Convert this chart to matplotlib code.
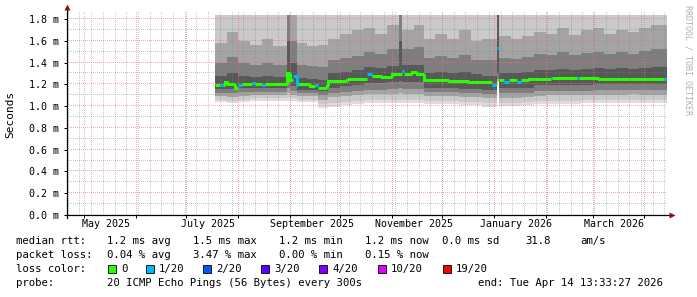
import numpy as np
import pandas as pd
import matplotlib
matplotlib.use('Agg')
import matplotlib.pyplot as plt
import matplotlib.dates as mdates
import matplotlib.transforms as mtransforms
from matplotlib.patches import Rectangle

plt.rcParams['font.family'] = ['DejaVu Sans Mono', 'DejaVu Sans']

# ---- data ---------------------------------------------------------------
end_time = pd.Timestamp('2026-04-14 13:33:27')
start_time = end_time - pd.Timedelta(days=359)

# median rtt (ms), one step per start date; loss index per step
med_dates = ['2025-07-18', '2025-07-21', '2025-07-23', '2025-07-24', '2025-07-26',
             '2025-07-30', '2025-08-01', '2025-08-03', '2025-08-09', '2025-08-11',
             '2025-08-15', '2025-08-17', '2025-08-30', '2025-09-01', '2025-09-03',
             '2025-09-05', '2025-09-06', '2025-09-13', '2025-09-16', '2025-09-18',
             '2025-09-23', '2025-09-24', '2025-10-05', '2025-10-06', '2025-10-17',
             '2025-10-20', '2025-10-26', '2025-11-01', '2025-11-07', '2025-11-08',
             '2025-11-13', '2025-11-16', '2025-11-20', '2025-12-05', '2025-12-17',
             '2025-12-31', '2026-01-02', '2026-01-03', '2026-01-04', '2026-01-07',
             '2026-01-10', '2026-01-15', '2026-01-17', '2026-01-22', '2026-01-25',
             '2026-02-04', '2026-02-05', '2026-02-20', '2026-02-21', '2026-03-05',
             '2026-03-23', '2026-04-13']
med_ms = [1.195, 1.19, 1.195, 1.22, 1.20,
          1.17, 1.195, 1.205, 1.215, 1.20,
          1.195, 1.20, 1.30, 1.24, 1.28,
          1.195, 1.20, 1.185, 1.19, 1.17,
          1.18, 1.233, 1.24, 1.25, 1.29,
          1.28, 1.265, 1.29, 1.32, 1.29,
          1.315, 1.295, 1.235, 1.23, 1.22,
          1.19, 1.20, 1.53, 1.235, 1.22,
          1.235, 1.22, 1.235, 1.245, 1.25,
          1.255, 1.255, 1.255, 1.255, 1.25,
          1.25, 1.245]
med_loss = [0, 1, 0, 0, 0,
            0, 1, 0, 1, 0,
            1, 0, 0, 0, 1,
            1, 0, 0, 1, 0,
            0, 0, 0, 0, 1,
            0, 0, 0, 1, 0,
            0, 0, 0, 0, 0,
            1, 0, 1, 0, 1,
            0, 1, 0, 0, 0,
            1, 0, 1, 0, 0,
            0, 1]

# smoke: sorted ping ranks (ms) per step
smoke_dates = ['2025-07-18', '2025-07-25', '2025-08-01', '2025-08-08', '2025-08-15',
               '2025-08-22', '2025-08-30', '2025-09-01', '2025-09-05', '2025-09-11',
               '2025-09-18', '2025-09-24', '2025-10-01', '2025-10-08', '2025-10-15',
               '2025-10-22', '2025-10-29', '2025-11-05', '2025-11-07', '2025-11-14',
               '2025-11-20', '2025-11-27', '2025-12-04', '2025-12-11', '2025-12-18',
               '2025-12-25', '2026-01-03', '2026-01-04', '2026-01-11', '2026-01-18',
               '2026-01-25', '2026-02-01', '2026-02-08', '2026-02-15', '2026-02-22',
               '2026-03-01', '2026-03-08', '2026-03-15', '2026-03-22', '2026-03-29',
               '2026-04-05']
ping_1 = [1.04, 1.03, 1.04, 1.05, 1.05, 1.05, 1.05, 1.05, 1.04, 1.04,
          0.98, 0.99, 1.01, 1.02, 1.03, 1.03, 1.03, 1.03, 1.03, 1.03,
          1.02, 1.02, 1.02, 1.01, 1.01, 0.99, 1.22, 1.00, 1.00, 1.01,
          1.02, 1.02, 1.02, 1.02, 1.03, 1.03, 1.03, 1.03, 1.03, 1.03,
          1.03]
ping_2 = [1.06, 1.05, 1.06, 1.07, 1.07, 1.07, 1.08, 1.07, 1.06, 1.06,
          1.02, 1.03, 1.04, 1.05, 1.06, 1.06, 1.06, 1.06, 1.06, 1.06,
          1.05, 1.05, 1.05, 1.04, 1.04, 1.03, 1.22, 1.03, 1.03, 1.04,
          1.05, 1.05, 1.05, 1.05, 1.06, 1.06, 1.06, 1.06, 1.06, 1.06,
          1.06]
ping_4 = [1.09, 1.08, 1.09, 1.10, 1.10, 1.10, 1.12, 1.10, 1.09, 1.09,
          1.06, 1.08, 1.09, 1.10, 1.11, 1.11, 1.11, 1.12, 1.11, 1.11,
          1.09, 1.09, 1.09, 1.08, 1.08, 1.07, 1.23, 1.07, 1.07, 1.08,
          1.09, 1.10, 1.10, 1.10, 1.10, 1.10, 1.10, 1.10, 1.11, 1.10,
          1.10]
ping_6 = [1.12, 1.12, 1.13, 1.13, 1.13, 1.13, 1.17, 1.14, 1.12, 1.12,
          1.10, 1.12, 1.13, 1.14, 1.15, 1.15, 1.16, 1.17, 1.16, 1.16,
          1.13, 1.13, 1.13, 1.12, 1.12, 1.11, 1.25, 1.12, 1.12, 1.12,
          1.14, 1.14, 1.14, 1.14, 1.14, 1.15, 1.15, 1.15, 1.15, 1.15,
          1.15]
ping_8 = [1.16, 1.16, 1.17, 1.17, 1.17, 1.17, 1.22, 1.18, 1.15, 1.15,
          1.14, 1.17, 1.18, 1.19, 1.21, 1.21, 1.22, 1.23, 1.22, 1.22,
          1.17, 1.17, 1.17, 1.16, 1.16, 1.15, 1.30, 1.17, 1.17, 1.17,
          1.19, 1.19, 1.19, 1.19, 1.19, 1.20, 1.20, 1.20, 1.20, 1.20,
          1.20]
ping_13 = [1.28, 1.30, 1.28, 1.27, 1.28, 1.27, 1.60, 1.40, 1.26, 1.25,
           1.24, 1.30, 1.31, 1.33, 1.36, 1.35, 1.37, 1.60, 1.38, 1.38,
           1.30, 1.31, 1.30, 1.31, 1.29, 1.28, 1.84, 1.30, 1.30, 1.31,
           1.33, 1.33, 1.34, 1.33, 1.34, 1.35, 1.34, 1.35, 1.34, 1.35,
           1.36]
ping_15 = [1.40, 1.45, 1.40, 1.38, 1.40, 1.38, 1.84, 1.60, 1.38, 1.37,
           1.36, 1.42, 1.44, 1.46, 1.50, 1.48, 1.52, 1.84, 1.52, 1.54,
           1.44, 1.46, 1.44, 1.47, 1.42, 1.42, 1.84, 1.44, 1.43, 1.45,
           1.48, 1.47, 1.50, 1.47, 1.49, 1.50, 1.48, 1.50, 1.48, 1.51,
           1.52]
ping_17 = [1.58, 1.68, 1.60, 1.56, 1.62, 1.55, 1.84, 1.84, 1.58, 1.55,
           1.56, 1.62, 1.66, 1.70, 1.72, 1.66, 1.74, 1.84, 1.70, 1.74,
           1.62, 1.66, 1.62, 1.70, 1.60, 1.62, 1.84, 1.64, 1.62, 1.64,
           1.68, 1.66, 1.72, 1.65, 1.70, 1.72, 1.66, 1.70, 1.68, 1.72,
           1.74]
ping_19 = [1.84] * 41

loss_labels = ['0', '1/20', '2/20', '3/20', '4/20', '10/20', '19/20']
loss_colors = ['#26ff00', '#00b8ff', '#0059ff', '#5e00ff', '#7e00ff', '#dd00ff', '#ff0000']

y_ticks = [0.0, 0.2, 0.4, 0.6, 0.8, 1.0, 1.2, 1.4, 1.6, 1.8]
x_label_dates = ['2025-05-14', '2025-07-14', '2025-09-14', '2025-11-14', '2026-01-14', '2026-03-14']
x_label_text = ['May 2025', 'July 2025', 'September 2025', 'November 2025',
                'January 2026', 'March 2026']

# ---- figure -------------------------------------------------------------
W, H = 697, 297
AX_W, AX_H = 600, 215 - 12.4
fig = plt.figure(figsize=(W / 100, H / 100), dpi=100)
fig.patch.set_facecolor('white')
ax = fig.add_axes([67 / W, 82 / H, AX_W / W, AX_H / H])
ax.set_xlim(mdates.date2num(start_time), mdates.date2num(end_time))
ax.set_ylim(0, 1.86)


def ext(v):
    return list(v) + [v[-1]]


def to_num(dates):
    return mdates.date2num(list(pd.to_datetime(dates)) + [end_time])


sx = to_num(smoke_dates)
bands = [(ping_1, ping_19, '#dddddd'), (ping_2, ping_19, '#cacaca'),
         (ping_4, ping_17, '#a4a4a4'), (ping_6, ping_15, '#7e7e7e'),
         (ping_8, ping_13, '#585858')]
for lo, hi, c in bands:
    ax.fill_between(sx, ext(lo), ext(hi), step='post', color=c, lw=0, zorder=1)

# dotted (1 px on / 1 px off) grid on top of smoke, as rrdtool does
grid_gray = (0.5, 0.5, 0.5, 0.42)
grid_red = (0.92, 0.45, 0.45, 0.6)
dots_x = np.arange(0, AX_W, 2) / AX_W
dots_y = np.arange(0, AX_H, 2) / AX_H
ty = mtransforms.blended_transform_factory(ax.transAxes, ax.transData)
tx = mtransforms.blended_transform_factory(ax.transData, ax.transAxes)
for v in np.arange(0.1, 1.85, 0.1):
    major = abs(v / 0.2 - round(v / 0.2)) < 1e-6
    ax.plot(dots_x, np.full_like(dots_x, v), ls='none', marker=',',
            color=grid_red if major else grid_gray, transform=ty, zorder=3)
for d in pd.date_range(start_time.normalize(), end_time, freq='W-MON'):
    ax.plot(np.full_like(dots_y, mdates.date2num(d)), dots_y, ls='none', marker=',',
            color=grid_gray, transform=tx, zorder=3)
month_starts = pd.date_range(start_time.normalize(), end_time, freq='MS')
for d in month_starts:
    ax.plot(np.full_like(dots_y, mdates.date2num(d)), dots_y, ls='none', marker=',',
            color=grid_red, transform=tx, zorder=3)

# median line, coloured by loss
mx = to_num(med_dates)
for i in range(len(med_ms)):
    xs = [mx[i], mx[i + 1]]
    ys = [med_ms[i], med_ms[i]]
    if i > 0 and med_loss[i] == med_loss[i - 1]:
        xs = [mx[i]] + xs
        ys = [med_ms[i - 1]] + ys
    ax.plot(xs, ys, color=loss_colors[med_loss[i]], lw=2.2,
            solid_capstyle='butt', solid_joinstyle='miter', zorder=5)

# axes frame
for s in ax.spines.values():
    s.set_visible(False)
ax.plot([-0.003, 1.0075], [0, 0], color='black', lw=0.9, transform=ax.transAxes,
        clip_on=False, zorder=6)
ax.plot([0, 0], [-0.015, 1.02], color='black', lw=0.9, transform=ax.transAxes,
        clip_on=False, zorder=6)
ax.plot([1.0075], [0], marker='>', ms=4.5, color='#8b1010', transform=ax.transAxes,
        clip_on=False, zorder=7, mec='none')
ax.plot([0], [1.025], marker='^', ms=4.5, color='#8b1010', transform=ax.transAxes,
        clip_on=False, zorder=7, mec='none')

ax.set_yticks(y_ticks)
ax.set_yticklabels(['%.1f m' % v for v in y_ticks])
ax.tick_params(axis='y', length=2, width=0.72, pad=4, labelsize=7.2)
ax.set_xticks(mdates.date2num(month_starts))
ax.set_xticklabels([])
ax.tick_params(axis='x', which='major', length=2.5, width=0.72, direction='out')
ax.set_xticks(mdates.date2num(pd.to_datetime(x_label_dates)), minor=True)
ax.set_xticklabels(x_label_text, minor=True)
ax.tick_params(axis='x', which='minor', length=0, pad=3, labelsize=7.2)

fig.text(10 / W, 1 - 114 / H, 'Seconds', rotation=90, ha='center', va='center',
         fontsize=8.0)
fig.text(688 / W, 1 - 5 / H, 'RRDTOOL / TOBI OETIKER', rotation=270, ha='center',
         va='top', fontsize=6, color='#b0b0b0')


# ---- legend block ------------------------------------------------------
def put(x, y, s):
    fig.text(x / W, 1 - y / H, s, ha='left', va='center', fontsize=7.7)


put(16, 241, 'median rtt:')
for x, s in [(107, '1.2 ms avg'), (193, '1.5 ms max'), (279, '1.2 ms min'),
             (365, '1.2 ms now'), (442, '0.0 ms sd'), (525, '31.8'), (580, 'am/s')]:
    put(x, 241, s)
put(16, 255.5, 'packet loss:')
for x, s in [(107, '0.04 % avg'), (193, '3.47 % max'), (279, '0.00 % min'),
             (365, '0.15 % now')]:
    put(x, 255.5, s)
put(16, 269, 'loss color:')
box_x = [108, 146, 203, 261, 319, 378, 443]
for bx, lab, col in zip(box_x, loss_labels, loss_colors):
    fig.patches.append(Rectangle((bx / W, 1 - 273 / H), 8 / W, 8 / H,
                                 transform=fig.transFigure, facecolor=col,
                                 edgecolor='black', lw=0.6))
    put(bx + 13, 269, lab)
put(16, 283, 'probe:')
put(107, 283, '20 ICMP Echo Pings (56 Bytes) every 300s')
put(478, 283, 'end: Tue Apr 14 13:33:27 2026')

fig.savefig('out.png', dpi=100, facecolor='white')
